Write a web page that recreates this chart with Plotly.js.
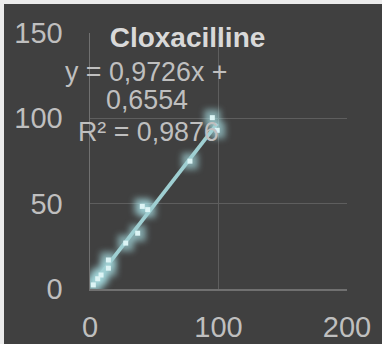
<!DOCTYPE html>
<html>
<head>
<meta charset="utf-8">
<script src="https://cdn.plot.ly/plotly-3.0.1.min.js"></script>
<style>
  html, body { margin: 0; padding: 0; background: #ececec; width: 382px; height: 344px; overflow: hidden; }
  #chart { position: absolute; left: 4px; top: 4px; width: 378px; height: 340px; }
</style>
</head>
<body>
<div id="chart"></div>
<script>
const concX = [2.6, 6, 8.6, 14.3, 14.3, 27.8, 37.1, 40.7, 44.9, 77.8, 95.2, 99];
const concY = [2.4, 6, 8.2, 12.2, 17, 26.9, 32.7, 48.4, 46.5, 74.9, 100.4, 93];
const slope = 0.9726;
const intercept = 0.6554;
const eqLines = ['y = 0,9726x +', '0,6554', 'R² = 0,9876'];
const chartTitle = 'Cloxacilline';

const xMin = Math.min(...concX), xMax = Math.max(...concX);
const trendX = [xMin, xMax];
const trendY = trendX.map(v => slope * v + intercept);

const traces = [
  { x: concX, y: concY, mode: 'markers', type: 'scatter', hoverinfo: 'skip',
    marker: { symbol: 'square', size: 16, color: 'rgba(175,235,240,0.6)' } },
  { x: trendX, y: trendY, mode: 'lines', type: 'scatter', hoverinfo: 'skip',
    line: { color: '#9fcfd2', width: 3.8 } },
  { x: concX, y: concY, mode: 'markers', type: 'scatter',
    marker: { symbol: 'square', size: 5, color: '#dcf4f5' } }
];

const W = 378, H = 340, ml = 86, mr = 35, mt = 29, mb = 55;
const pw = W - ml - mr, ph = H - mt - mb;
const px = v => (v - ml) / pw;
const py = v => 1 - (v - mt) / ph;
const FAM = 'Liberation Sans, Arial, sans-serif';
const eqFont = { family: FAM, size: 26.8, color: '#bfbfbf' };

const layout = {
  width: W, height: H,
  margin: { l: ml, r: mr, t: mt, b: mb, pad: 0 },
  paper_bgcolor: '#404040', plot_bgcolor: '#404040',
  showlegend: false,
  title: { text: '<b>' + chartTitle + '</b>', xref: 'container', yref: 'container',
           x: 183.5 / W, y: 1 - 33 / H, xanchor: 'center', yanchor: 'middle',
           font: { family: FAM, size: 28, color: '#d9d9d9' } },
  xaxis: { range: [0, 200], dtick: 100, tick0: 0, showgrid: true, gridcolor: '#5e5e5e', gridwidth: 1.3,
           zeroline: false, showline: true, linecolor: '#707070', linewidth: 1.5, mirror: false,
           ticks: '', ticklabelstandoff: 12,
           tickfont: { family: FAM, size: 29, color: '#bfbfbf' } },
  yaxis: { range: [0, 150], dtick: 50, tick0: 0, showgrid: true, gridcolor: '#5e5e5e', gridwidth: 1.3,
           zeroline: false, showline: true, linecolor: '#707070', linewidth: 1.5,
           ticks: '', ticklabelstandoff: 20,
           tickfont: { family: FAM, size: 29, color: '#bfbfbf' } },
  annotations: [
    { text: eqLines[0], xref: 'paper', yref: 'paper', x: px(142), y: py(68), xanchor: 'center', yanchor: 'middle', showarrow: false, font: eqFont },
    { text: eqLines[1], xref: 'paper', yref: 'paper', x: px(142.5), y: py(96), xanchor: 'center', yanchor: 'middle', showarrow: false, font: eqFont },
    { text: eqLines[2], xref: 'paper', yref: 'paper', x: px(144), y: py(128), xanchor: 'center', yanchor: 'middle', showarrow: false, font: eqFont }
  ]
};

Plotly.newPlot('chart', traces, layout, { displayModeBar: false, staticPlot: true }).then(() => {
  const tr = document.querySelectorAll('.scatterlayer .trace');
  if (tr[0]) tr[0].style.filter = 'blur(3px)';
});
</script>
</body>
</html>
